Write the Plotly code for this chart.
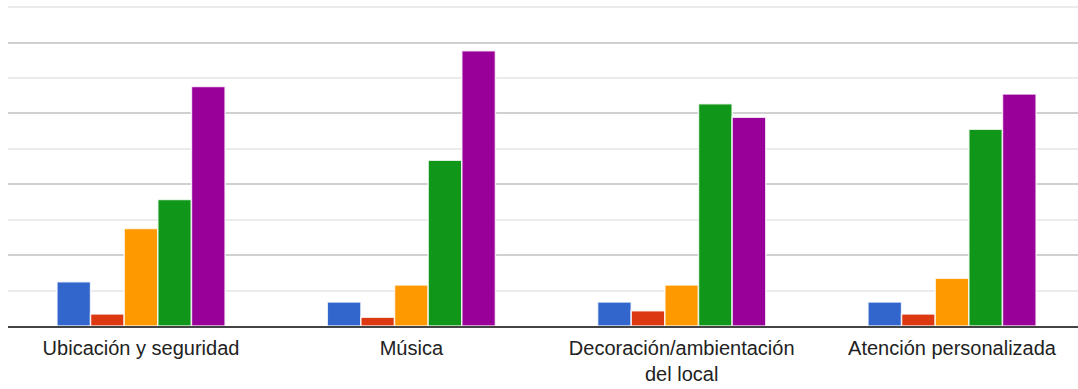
import plotly.graph_objects as go

categories = ["Ubicación y seguridad", "Música", "Decoración/ambientación<br>del local", "Atención personalizada"]
series_names = ["1", "2", "3", "4", "5"]
series_colors = ["#3366cc", "#dc3912", "#ff9900", "#109618", "#990099"]
values = {
    "1": [1.25, 0.68, 0.68, 0.68],
    "2": [0.34, 0.25, 0.43, 0.34],
    "3": [2.75, 1.16, 1.16, 1.35],
    "4": [3.57, 4.68, 6.27, 5.55],
    "5": [6.76, 7.77, 5.89, 6.55],
}

fig = go.Figure()
for name, color in zip(series_names, series_colors):
    fig.add_trace(go.Bar(
        x=list(range(len(categories))), y=values[name], name=name,
        marker=dict(color=color, line=dict(color="rgba(255,255,255,0.8)", width=1.5)),
        showlegend=False,
    ))

fig.update_layout(
    width=1078, height=389,
    margin=dict(l=8, r=0, t=5, b=63),
    paper_bgcolor="white", plot_bgcolor="white",
    barmode="group", bargap=0.378, bargroupgap=0,
    font=dict(family="Liberation Sans, Arial, sans-serif", size=20, color="#222222"),
    xaxis=dict(
        tickmode="array", tickvals=list(range(len(categories))), ticktext=categories,
        range=[-0.492, 3.466], showgrid=False, zeroline=False,
        showline=True, linecolor="#444444", linewidth=2, layer="above traces",
        ticks="", tickfont=dict(size=20, color="#222222"), ticklabelstandoff=3,
    ),
    yaxis=dict(
        range=[0, 9.06], dtick=2, showticklabels=False, zeroline=False,
        showgrid=True, gridcolor="#d0d0d0", gridwidth=1.5,
        minor=dict(dtick=1, showgrid=True, gridcolor="#ebebeb", gridwidth=1.5),
    ),
)

fig.write_html("out.html")
